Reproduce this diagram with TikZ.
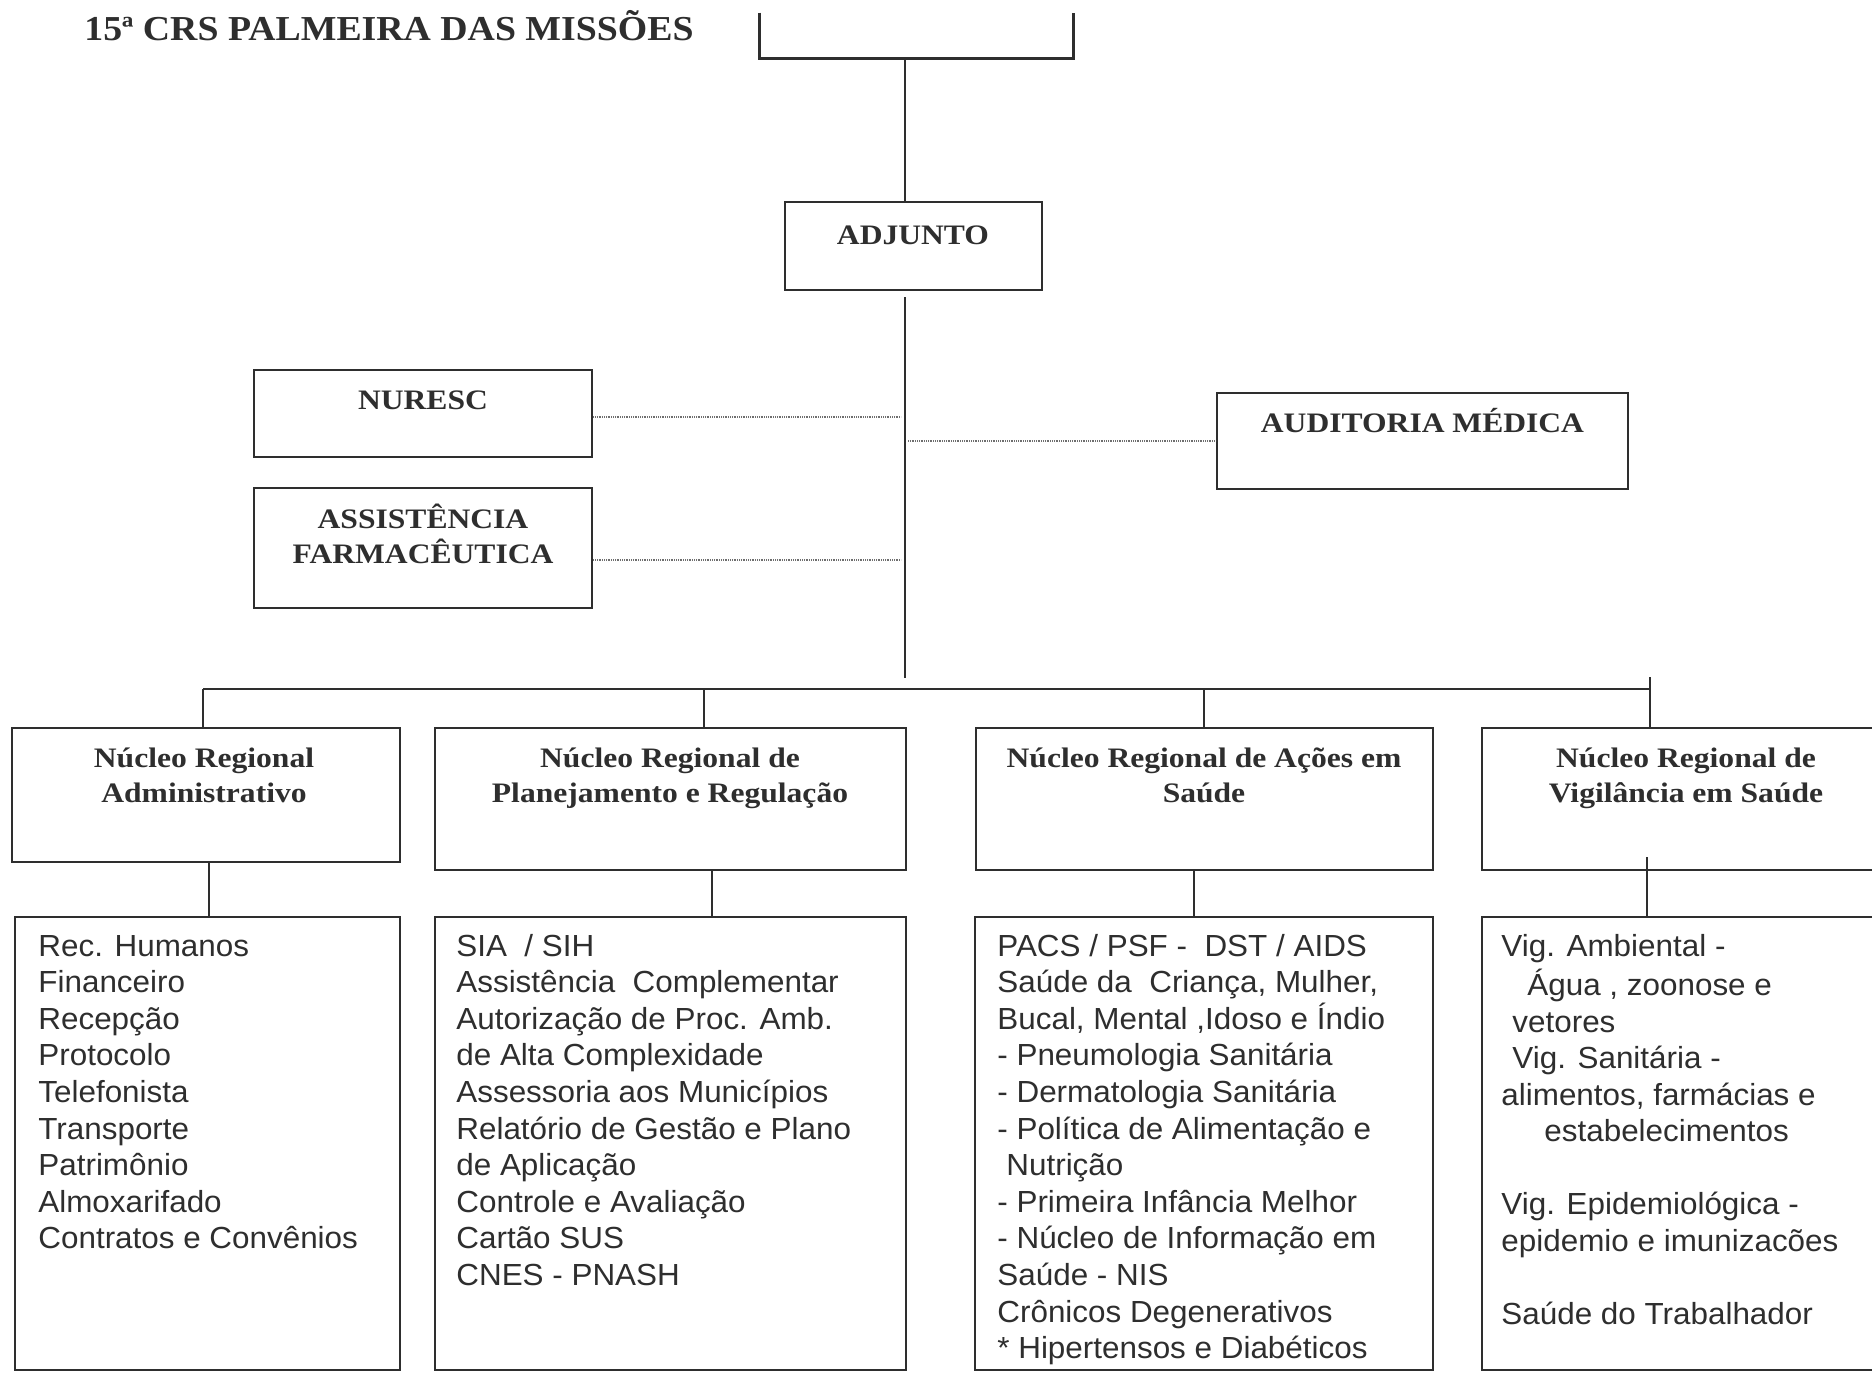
\documentclass[tikz,border=0pt]{standalone}
\usepackage{fontspec}
\newfontfamily\hdrfont[FakeStretch=1.12]{Liberation Serif}
\newfontfamily\ttlfont[FakeStretch=1.08]{Liberation Serif}
\newfontfamily\bodyfont[FakeStretch=1.03]{Liberation Sans}
\definecolor{ink}{HTML}{2E2E2E}
\definecolor{dotc}{HTML}{6E6E6E}
\newcommand{\hstr}{\rule{0pt}{13pt}}
\tikzset{
  box/.style={draw=ink, line width=1.2pt, inner sep=0pt, fill=none},
  conn/.style={draw=ink, line width=0.9pt},
  dotln/.style={draw=dotc, line width=1.4pt, dash pattern=on 0.5pt off 0.4pt},
  hdr/.style={text=ink, inner sep=0pt, align=center, font=\hdrfont\bfseries\fontsize{14.1}{17.5}\selectfont},
  ttl/.style={text=ink, inner sep=0pt, font=\ttlfont\bfseries\fontsize{17.5}{20}\selectfont},
  body/.style={text=ink, inner sep=0pt, align=left, anchor=north west, font=\bodyfont\fontsize{15.25}{18.3}\selectfont}
}
\begin{document}
\begin{tikzpicture}[x=0.5pt,y=-0.5pt]
\useasboundingbox[fill=white] (0,0) rectangle (1872,1372);

% title
\node[ttl, anchor=base west] (title) at (84,40) {15ª CRS PALMEIRA DAS MISSÕES};

% top (cut) box
\node[inner sep=0pt, minimum width=156.5pt, minimum height=22.5pt] (top) at (916.5,35.5) {};
\draw[ink, line width=1.2pt] (top.north west) -- (top.south west) -- (top.south east) -- (top.north east);

% boxes
\node[box, minimum width=128.5pt, minimum height=44pt] (adj) at (913.5,246) {};
\node[box, minimum width=169pt, minimum height=43.5pt] (nur) at (423,413.5) {};
\node[box, minimum width=169pt, minimum height=60pt] (asf) at (423,548) {};
\node[box, minimum width=205.5pt, minimum height=48pt] (aud) at (1422.5,441) {};

\node[box, minimum width=194pt, minimum height=67pt] (b1) at (206,795) {};
\node[box, minimum width=235.5pt, minimum height=71pt] (b2) at (670.5,799) {};
\node[box, minimum width=228.5pt, minimum height=71pt] (b3) at (1204.5,799) {};
\node[box, minimum width=204pt, minimum height=71pt] (b4) at (1686,799) {};

\node[box, minimum width=192.5pt, minimum height=226.5pt] (b5) at (207.5,1143.5) {};
\node[box, minimum width=235.5pt, minimum height=226.5pt] (b6) at (670.5,1143.5) {};
\node[box, minimum width=229pt, minimum height=226.5pt] (b7) at (1204,1143.5) {};
\node[box, minimum width=204pt, minimum height=226.5pt] (b8) at (1686,1143.5) {};

% header texts
\node[hdr, anchor=base] (adjt) at (913,244) {ADJUNTO};
\node[hdr, anchor=base] (nurt) at (423,409) {NURESC};
\node[hdr, anchor=north] (asft) at (423,502) {\hstr ASSISTÊNCIA\\FARMACÊUTICA};
\node[hdr, anchor=base] (audt) at (1422.5,432) {AUDITORIA MÉDICA};
\node[hdr, anchor=north] (b1t) at (204,741) {\hstr Núcleo Regional\\Administrativo};
\node[hdr, anchor=north] (b2t) at (670,741) {\hstr Núcleo Regional de\\Planejamento e Regulação};
\node[hdr, anchor=north] (b3t) at (1204,741) {\hstr Núcleo Regional de Ações em\\Saúde};
\node[hdr, anchor=north] (b4t) at (1686,741) {\hstr Núcleo Regional de\\Vigilância em Saúde};

% body texts
\node[body] (b5t) at (38,930) {\strut Rec. Humanos\\Financeiro\\Recepção\\Protocolo\\Telefonista\\Transporte\\Patrimônio\\Almoxarifado\\Contratos e Convênios};
\node[body] (b6t) at (456,930) {\strut SIA \ / SIH\\Assistência \ Complementar\\Autorização de Proc. Amb.\\de Alta Complexidade\\Assessoria aos Municípios\\Relatório de Gestão e Plano\\de Aplicação\\Controle e Avaliação\\Cartão SUS\\CNES - PNASH};
\node[body] (b7t) at (997,930) {\strut PACS / PSF - \ DST / AIDS\\Saúde da \ Criança, Mulher,\\Bucal, Mental ,Idoso e Índio\\- Pneumologia Sanitária\\- Dermatologia Sanitária\\- Política de Alimentação e\\\hspace*{4.5pt}Nutrição\\- Primeira Infância Melhor\\- Núcleo de Informação em\\Saúde - NIS\\Crônicos Degenerativos\\* Hipertensos e Diabéticos};
\node[body] (b8t) at (1501,930) {\strut Vig. Ambiental -\\\hspace*{13pt}Água , zoonose e\\\hspace*{5.5pt}vetores\\\hspace*{5.5pt}Vig. Sanitária -\\alimentos, farmácias e\\\hspace*{21.5pt}estabelecimentos\\[18.1pt]Vig. Epidemiológica -\\epidemio e imunizacões\\[18.1pt]Saúde do Trabalhador};

% connectors
\coordinate (tx) at (905,0);
\draw[conn] (top.south -| tx) -- (adj.north -| tx);
\coordinate (tA) at (905,297);
\coordinate (tB) at (905,678);
\draw[conn] (tA) -- (tB);

\coordinate (n1) at (901,417);
\draw[dotln] (nur.east |- n1) -- (n1);
\coordinate (a1) at (901,560);
\draw[dotln] (asf.east |- a1) -- (a1);
\coordinate (m1) at (908,441);
\draw[dotln] (m1) -- (aud.west);

\coordinate (barL) at (203,689);
\coordinate (barR) at (1650,689);
\draw[ink, line width=1.2pt] (barL) -- (barR);
\coordinate (d2) at (704,689);
\coordinate (d3) at (1204,689);
\coordinate (d4) at (1650,677);
\draw[conn] (barL) -- (b1.north -| barL);
\draw[conn] (d2) -- (b2.north -| d2);
\draw[conn] (d3) -- (b3.north -| d3);
\draw[conn] (d4) -- (b4.north -| d4);

\coordinate (e1) at (209,0);
\coordinate (e2) at (712,0);
\coordinate (e3) at (1194,0);
\coordinate (e4) at (1647,857);
\draw[conn] (b1.south -| e1) -- (b5.north -| e1);
\draw[conn] (b2.south -| e2) -- (b6.north -| e2);
\draw[conn] (b3.south -| e3) -- (b7.north -| e3);
\draw[conn] (e4) -- (b8.north -| e4);
\end{tikzpicture}
\end{document}
